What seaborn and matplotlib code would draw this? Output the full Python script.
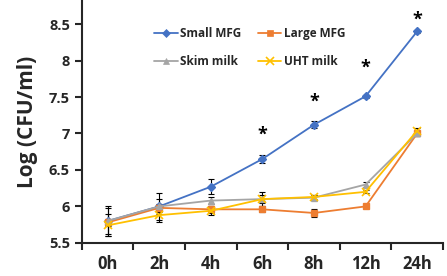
import numpy as np
import pandas as pd
import seaborn as sns
import matplotlib.pyplot as plt
from matplotlib.ticker import FixedLocator

# data
times = ['0h', '2h', '4h', '6h', '8h', '12h', '24h']
small_mfg = [5.80, 6.00, 6.27, 6.65, 7.12, 7.51, 8.40]
large_mfg = [5.78, 5.98, 5.96, 5.96, 5.91, 6.00, 7.00]
skim_milk = [5.80, 6.00, 6.08, 6.10, 6.12, 6.30, 7.00]
uht_milk = [5.74, 5.88, 5.94, 6.10, 6.13, 6.20, 7.04]
small_err = [0.18, 0.10, 0.10, 0.05, 0.05, 0.02, 0.02]
large_err = [0.05, 0.05, 0.05, 0.04, 0.05, 0.02, 0.04]
skim_err = [0.20, 0.18, 0.05, 0.10, 0.03, 0.03, 0.03]
uht_err = [0.15, 0.10, 0.06, 0.05, 0.03, 0.02, 0.03]
star_times = ['6h', '8h', '12h', '24h']
star_y = [6.98, 7.44, 7.90, 8.56]

series = ['Small MFG', 'Large MFG', 'Skim milk', 'UHT milk']
values = [small_mfg, large_mfg, skim_milk, uht_milk]
errors = [small_err, large_err, skim_err, uht_err]
colors = ['#4472C4', '#ED7D31', '#A5A5A5', '#FFC000']
markers = ['D', 's', '^', 'x']

df = pd.DataFrame({
    'time': times * len(series),
    'value': sum(values, []),
    'group': sum([[s] * len(times) for s in series], []),
})

sns.set_style('ticks')
plt.rcParams['font.family'] = ['Open Sans', 'DejaVu Sans']

fig = plt.figure(figsize=(4.47, 2.76), dpi=100)
ax = fig.add_axes([0.183, 0.12, 0.808, 0.88])

# error bars under the lines
xpos = np.arange(len(times))
for v, e in zip(values, errors):
    ax.errorbar(xpos, v, yerr=e, fmt='none', ecolor='black', elinewidth=0.8,
                capsize=2, capthick=0.8, zorder=1)

sns.pointplot(data=df, x='time', y='value', hue='group', order=times,
              hue_order=series, palette=colors, markers=markers,
              linestyles='-', errorbar=None, markersize=4, linewidth=1.3,
              ax=ax, legend=False)

for line in ax.lines:
    if line.get_marker() == 'x':
        line.set_markersize(5.5)
        line.set_markeredgewidth(1.2)
    line.set_zorder(3)

# significance stars
for t, y in zip(star_times, star_y):
    ax.text(times.index(t), y, '*', ha='center', va='center',
            fontsize=13, fontweight='bold', color='black')

# legend, filled row by row like the original
handles = {s: plt.Line2D([], [], color=c, marker=m, lw=1.3,
                         markersize=5.5 if m == 'x' else 4,
                         markeredgewidth=1.2 if m == 'x' else 0.5,
                         markerfacecolor=c, markeredgecolor=c)
           for s, c, m in zip(series, colors, markers)}
leg_order = ['Small MFG', 'Skim milk', 'Large MFG', 'UHT milk']
ax.legend([handles[s] for s in leg_order], leg_order, ncol=2, frameon=False,
          loc='upper left', bbox_to_anchor=(0.2, 0.89), borderaxespad=0,
          borderpad=0, handlelength=2.0, handletextpad=0.2,
          columnspacing=1.4, labelspacing=1.3,
          prop={'weight': 'bold', 'size': 8.5})

ax.set_xlim(-0.5, len(times) - 0.5)
ax.set_ylim(5.5, 8.83)
ax.set_yticks([5.5, 6, 6.5, 7, 7.5, 8, 8.5])
ax.set_yticklabels(['5.5', '6', '6.5', '7', '7.5', '8', '8.5'])
ax.xaxis.set_minor_locator(FixedLocator(np.arange(-0.5, len(times), 1.0)))
ax.tick_params(axis='x', which='major', length=0, pad=9, labelsize=12)
ax.tick_params(axis='x', which='minor', length=5, width=1.5, direction='out')
ax.tick_params(axis='y', length=5, width=1.5, direction='out', labelsize=10.5)
for lab in ax.get_xticklabels() + ax.get_yticklabels():
    lab.set_fontweight('bold')

ax.set_xlabel('')
ax.set_ylabel('Log (CFU/ml)', fontsize=15, fontweight='bold', labelpad=8)

sns.despine(ax=ax)
for s in ['left', 'bottom']:
    ax.spines[s].set_linewidth(1.5)

fig.savefig('out.png', dpi=100)
